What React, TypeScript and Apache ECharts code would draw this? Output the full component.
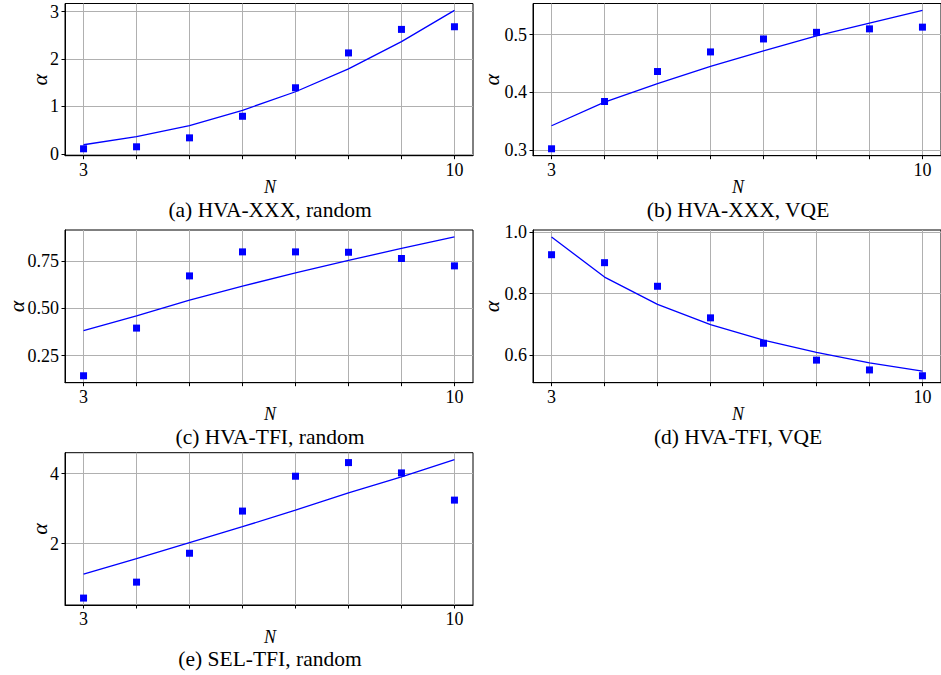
import React, { useEffect, useRef } from "react";
import * as echarts from "echarts";

// ---- data ----
const N = [3, 4, 5, 6, 7, 8, 9, 10];
const xTickValues = [3, 4, 5, 6, 7, 8, 9, 10];
const xLabelValues = [3, 10];

const aPoints = [0.105, 0.147, 0.336, 0.792, 1.394, 2.13, 2.627, 2.683];
const aFit = [0.19, 0.364, 0.596, 0.918, 1.31, 1.794, 2.369, 3.028];
const bPoints = [0.302, 0.384, 0.436, 0.47, 0.4925, 0.504, 0.51, 0.513];
const bFit = [0.342, 0.383, 0.415, 0.445, 0.472, 0.498, 0.52, 0.542];
const cPoints = [0.144, 0.396, 0.672, 0.799, 0.799, 0.797, 0.764, 0.725];
const cFit = [0.382, 0.461, 0.544, 0.618, 0.688, 0.754, 0.817, 0.878];
const dPoints = [0.927, 0.901, 0.824, 0.721, 0.638, 0.583, 0.551, 0.532];
const dFit = [0.985, 0.854, 0.765, 0.699, 0.648, 0.608, 0.574, 0.547];
const ePoints = [0.445, 0.9, 1.725, 2.929, 3.924, 4.313, 4.019, 3.242];
const eFit = [1.128, 1.573, 2.028, 2.483, 2.957, 3.45, 3.905, 4.398];

const aYTicks = [0, 1, 2, 3];
const bYTicks = [0.3, 0.4, 0.5];
const cYTicks = [0.25, 0.5, 0.75];
const dYTicks = [0.6, 0.8, 1.0];
const eYTicks = [2, 4];

const titles = [
  "(a) HVA-XXX, random",
  "(b) HVA-XXX, VQE",
  "(c) HVA-TFI, random",
  "(d) HVA-TFI, VQE",
  "(e) SEL-TFI, random",
];

const FONT = "'Liberation Serif', 'Times New Roman', serif";

const panels = [
  { pts: aPoints, fit: aFit, ticks: aYTicks, dec: 0, left: 65, top: 3.5, h: 152.2, alphaX: 39 },
  { pts: bPoints, fit: bFit, ticks: bYTicks, dec: 1, left: 533, top: 3.5, h: 152.2, alphaX: 491.5 },
  { pts: cPoints, fit: cFit, ticks: cYTicks, dec: 2, left: 65, top: 230, h: 152.7, alphaX: 16 },
  { pts: dPoints, fit: dFit, ticks: dYTicks, dec: 1, left: 533, top: 230, h: 152.7, alphaX: 491 },
  { pts: ePoints, fit: eFit, ticks: eYTicks, dec: 0, left: 65, top: 452.7, h: 152.3, alphaX: 39 },
];

const PANEL_W = 408;

export default function App() {
  const ref = useRef<HTMLDivElement>(null);

  useEffect(() => {
    if (!ref.current) return;
    const chart = echarts.init(ref.current, undefined, { renderer: "svg" });

    const grids: any[] = [];
    const xAxes: any[] = [];
    const yAxes: any[] = [];
    const series: any[] = [];
    const graphics: any[] = [];

    panels.forEach((p, i) => {
      const all = [...p.pts, ...p.fit];
      const lo = Math.min(...all);
      const hi = Math.max(...all);
      const m = (hi - lo) * 0.05;

      grids.push({
        left: p.left,
        top: p.top,
        width: PANEL_W,
        height: p.h,
        show: true,
        borderColor: "#000",
        borderWidth: 1,
        backgroundColor: "transparent",
        containLabel: false,
      });

      xAxes.push({
        type: "value",
        gridIndex: i,
        min: 2.65,
        max: 10.35,
        axisLine: { show: true, onZero: false, lineStyle: { color: "#000", width: 1 } },
        axisTick: {
          show: true,
          inside: false,
          length: 3.5,
          customValues: xTickValues,
          lineStyle: { color: "#000", width: 1 },
        },
        axisLabel: {
          show: true,
          customValues: xLabelValues,
          margin: 5,
          fontFamily: FONT,
          fontSize: 18,
          color: "#000",
          formatter: (v: number) => String(Math.round(v)),
        },
        splitLine: { show: true, lineStyle: { color: "#b0b0b0", width: 1 } },
      });

      yAxes.push({
        type: "value",
        gridIndex: i,
        min: lo - m,
        max: hi + m,
        axisLine: { show: true, onZero: false, lineStyle: { color: "#000", width: 1 } },
        axisTick: {
          show: true,
          inside: false,
          length: 3.5,
          customValues: p.ticks,
          lineStyle: { color: "#000", width: 1 },
        },
        axisLabel: {
          show: true,
          customValues: p.ticks,
          margin: 6,
          fontFamily: FONT,
          fontSize: 18,
          color: "#000",
          formatter: (v: number) => v.toFixed(p.dec),
        },
        splitLine: { show: true, lineStyle: { color: "#b0b0b0", width: 1 } },
      });

      series.push({
        type: "line",
        xAxisIndex: i,
        yAxisIndex: i,
        data: N.map((n, k) => [n, p.fit[k]]),
        showSymbol: false,
        symbol: "none",
        lineStyle: { color: "#0000ff", width: 1.3 },
        z: 3,
      });
      series.push({
        type: "scatter",
        xAxisIndex: i,
        yAxisIndex: i,
        data: N.map((n, k) => [n, p.pts[k]]),
        symbol: "rect",
        symbolSize: 7,
        itemStyle: { color: "#0000ff", opacity: 1 },
        z: 4,
      });

      const cx = p.left + PANEL_W / 2 + 1;
      const bottom = p.top + p.h;
      graphics.push({
        type: "text",
        x: cx,
        y: bottom + 31.5,
        style: {
          text: "N",
          fontFamily: FONT,
          fontStyle: "italic",
          fontSize: 18,
          fill: "#000",
          textAlign: "center",
          textVerticalAlign: "middle",
        },
      });
      graphics.push({
        type: "text",
        x: cx,
        y: bottom + 54,
        style: {
          text: titles[i],
          fontFamily: FONT,
          fontSize: 21.5,
          fill: "#000",
          textAlign: "center",
          textVerticalAlign: "middle",
        },
      });
      graphics.push({
        type: "text",
        x: p.alphaX,
        y: p.top + p.h / 2,
        rotation: Math.PI / 2,
        style: {
          text: "α",
          fontFamily: FONT,
          fontStyle: "italic",
          fontSize: 22,
          fill: "#000",
          textAlign: "center",
          textVerticalAlign: "middle",
        },
      });
    });

    chart.setOption({
      animation: false,
      backgroundColor: "#fff",
      grid: grids,
      xAxis: xAxes,
      yAxis: yAxes,
      series,
      graphic: graphics,
    });

    return () => chart.dispose();
  }, []);

  return (
    <div
      ref={ref}
      style={{ position: "fixed", left: 0, top: 0, width: 941, height: 675, background: "#fff" }}
    />
  );
}
